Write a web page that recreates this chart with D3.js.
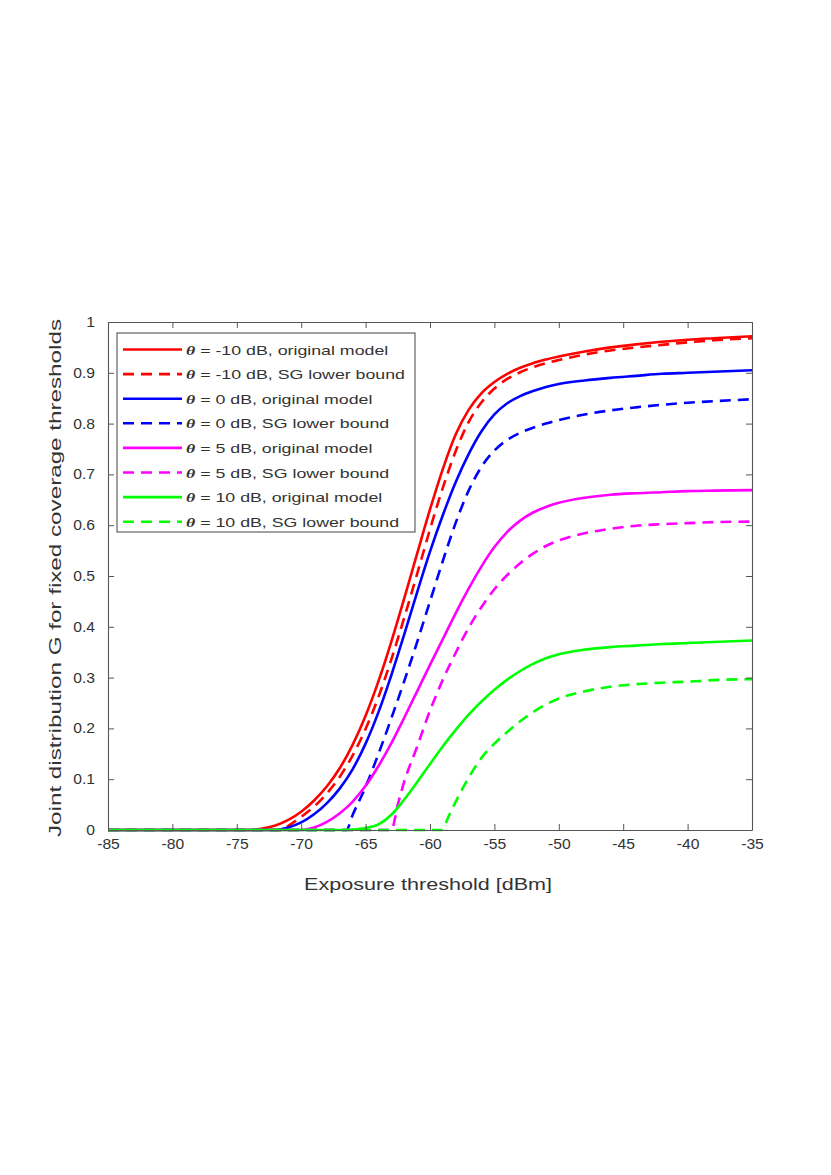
<!DOCTYPE html>
<html><head><meta charset="utf-8">
<script src="https://cdn.jsdelivr.net/npm/d3@7/dist/d3.min.js"></script>
<style>body{margin:0;background:#fff}svg{display:block}</style>
</head><body><svg id="c" width="831" height="1175"></svg>
<script>
// ---- data ----
const xTickValues = [-85,-80,-75,-70,-65,-60,-55,-50,-45,-40,-35];
const xTickLabels = ["-85","-80","-75","-70","-65","-60","-55","-50","-45","-40","-35"];
const yTickValues = [0,0.1,0.2,0.3,0.4,0.5,0.6,0.7,0.8,0.9,1];
const yTickLabels = ["0","0.1","0.2","0.3","0.4","0.5","0.6","0.7","0.8","0.9","1"];

const legendLabels = [
  ["θ", " = -10 dB, original model"],
  ["θ", " = -10 dB, SG lower bound"],
  ["θ", " = 0 dB, original model"],
  ["θ", " = 0 dB, SG lower bound"],
  ["θ", " = 5 dB, original model"],
  ["θ", " = 5 dB, SG lower bound"],
  ["θ", " = 10 dB, original model"],
  ["θ", " = 10 dB, SG lower bound"]
];
const seriesColors = ["#ff0000","#ff0000","#0000ff","#0000ff","#ff00ff","#ff00ff","#00ff00","#00ff00"];
const seriesDashed = [false,true,false,true,false,true,false,true];

const redOriginal = [[-85,0],[-74,0],[-73,0.003],[-72,0.009],[-71,0.020],[-70,0.036],[-69,0.058],[-68,0.086],[-67,0.122],[-66,0.168],[-65,0.225],[-64,0.293],[-63,0.371],[-62,0.456],[-61,0.544],[-60,0.631],[-59,0.711],[-58,0.779],[-57,0.827],[-56,0.860],[-55,0.882],[-54,0.898],[-53,0.910],[-52,0.919],[-51,0.926],[-50,0.932],[-48,0.942],[-46,0.950],[-44,0.956],[-42,0.961],[-40,0.965],[-38,0.968],[-35,0.972]];
const redLower = [[-85,0],[-71.5,0],[-71,0.008],[-70,0.026],[-69,0.046],[-68,0.072],[-67,0.105],[-66,0.147],[-65,0.199],[-64,0.262],[-63,0.336],[-62,0.418],[-61,0.504],[-60,0.592],[-59,0.674],[-58,0.746],[-57,0.803],[-56,0.842],[-55,0.869],[-54,0.888],[-53,0.901],[-52,0.911],[-51,0.919],[-50,0.925],[-48,0.936],[-46,0.944],[-44,0.950],[-42,0.955],[-40,0.960],[-38,0.964],[-35,0.968]];
const blueOriginal = [[-85,0],[-72,0],[-71,0.005],[-70,0.015],[-69,0.031],[-68,0.053],[-67,0.082],[-66,0.120],[-65,0.170],[-64,0.232],[-63,0.305],[-62,0.385],[-61,0.468],[-60,0.548],[-59,0.620],[-58,0.685],[-57,0.740],[-56,0.785],[-55,0.818],[-54,0.840],[-53,0.854],[-52,0.864],[-51,0.872],[-50,0.878],[-48,0.885],[-46,0.890],[-44,0.894],[-42,0.898],[-40,0.900],[-38,0.902],[-35,0.905]];
const blueLower = [[-85,0],[-66.5,0],[-66,0.03],[-65,0.085],[-64,0.15],[-63,0.22],[-62,0.293],[-61,0.37],[-60,0.45],[-59,0.53],[-58,0.605],[-57,0.668],[-56,0.715],[-55,0.747],[-54,0.768],[-53,0.782],[-52,0.792],[-51,0.80],[-50,0.807],[-48,0.818],[-46,0.826],[-44,0.832],[-42,0.837],[-40,0.841],[-38,0.844],[-35,0.848]];
const magentaOriginal = [[-85,0],[-70,0],[-69,0.005],[-68,0.016],[-67,0.033],[-66,0.056],[-65,0.087],[-64,0.126],[-63,0.171],[-62,0.221],[-61,0.273],[-60,0.325],[-59,0.376],[-58,0.427],[-57,0.475],[-56,0.519],[-55,0.557],[-54,0.587],[-53,0.609],[-52,0.625],[-51,0.636],[-50,0.644],[-48,0.654],[-46,0.660],[-44,0.663],[-42,0.665],[-40,0.667],[-38,0.668],[-35,0.669]];
const magentaLower = [[-85,0],[-63,0],[-62.5,0.05],[-62,0.095],[-61,0.164],[-60,0.235],[-59,0.296],[-58,0.349],[-57,0.398],[-56,0.439],[-55,0.474],[-54,0.502],[-53,0.525],[-52,0.544],[-51,0.559],[-50,0.570],[-49,0.578],[-48,0.584],[-46,0.593],[-44,0.599],[-42,0.602],[-40,0.604],[-38,0.606],[-35,0.607]];
const greenOriginal = [[-85,0],[-67,0],[-66,0.001],[-65,0.004],[-64,0.011],[-63,0.030],[-62,0.060],[-61,0.094],[-60,0.130],[-59,0.165],[-58,0.197],[-57,0.227],[-56,0.253],[-55,0.276],[-54,0.296],[-53,0.313],[-52,0.327],[-51,0.338],[-50,0.346],[-48,0.355],[-46,0.360],[-44,0.363],[-42,0.366],[-40,0.368],[-38,0.370],[-35,0.373]];
const greenLower = [[-85,0],[-59.1,0],[-58.5,0.03],[-58,0.056],[-57,0.103],[-56,0.142],[-55,0.170],[-54,0.193],[-53,0.214],[-52,0.232],[-51,0.247],[-50,0.259],[-48,0.273],[-46,0.282],[-44,0.287],[-42,0.290],[-40,0.292],[-38,0.295],[-35,0.297]];

const seriesData = [redOriginal, redLower, blueOriginal, blueLower, magentaOriginal, magentaLower, greenOriginal, greenLower];

const xTitle = "Exposure threshold [dBm]";
const yTitle = "Joint distribution G for fixed coverage thresholds";

// ---- drawing ----
const svg = d3.select("#c");
const L = 108, R = 752, T = 322, B = 830;
const x = d3.scaleLinear().domain([-85, -35]).range([L, R]);
const y = d3.scaleLinear().domain([0, 1]).range([B, T]);
const axisCol = "#555", textCol = "#333";
const FONT = "'Liberation Sans', Arial, Helvetica, sans-serif";

function stretch(sel, factor) {
  sel.each(function () {
    const w = this.getComputedTextLength();
    this.setAttribute("textLength", w * factor);
    this.setAttribute("lengthAdjust", "spacingAndGlyphs");
  });
}

svg.append("defs").append("clipPath").attr("id", "clip")
  .append("rect").attr("x", L).attr("y", T - 2).attr("width", R - L).attr("height", B - T + 4);

// curves
const line = d3.line().x(d => x(d[0])).y(d => y(d[1])).curve(d3.curveMonotoneX);
const gLines = svg.append("g").attr("clip-path", "url(#clip)");
seriesData.forEach((s, i) => {
  gLines.append("path").datum(s)
    .attr("d", line)
    .attr("fill", "none")
    .attr("stroke", seriesColors[i])
    .attr("stroke-width", 2.6)
    .attr("stroke-dasharray", seriesDashed[i] ? "11,7" : null);
});

// axes (MATLAB-style box, ticks inside)
const tickLen = 6;
const gx = svg.append("g").attr("transform", `translate(0,${B})`)
  .call(d3.axisBottom(x).tickValues(xTickValues).tickFormat((d, i) => xTickLabels[i]).tickSizeInner(-tickLen).tickSizeOuter(0).tickPadding(tickLen + 3));
const gxTop = svg.append("g").attr("transform", `translate(0,${T})`)
  .call(d3.axisTop(x).tickValues(xTickValues).tickFormat("").tickSizeInner(-tickLen).tickSizeOuter(0));
const gy = svg.append("g").attr("transform", `translate(${L},0)`)
  .call(d3.axisLeft(y).tickValues(yTickValues).tickFormat((d, i) => yTickLabels[i]).tickSizeInner(-tickLen).tickSizeOuter(0).tickPadding(tickLen + 7));
const gyR = svg.append("g").attr("transform", `translate(${R},0)`)
  .call(d3.axisRight(y).tickValues(yTickValues).tickFormat("").tickSizeInner(-tickLen).tickSizeOuter(0));

[gx, gxTop, gy, gyR].forEach(g => {
  g.selectAll(".domain").attr("stroke", axisCol).attr("stroke-width", 1.1);
  g.selectAll(".tick line").attr("stroke", axisCol).attr("stroke-width", 1);
  g.selectAll("text").attr("fill", textCol).style("font-family", FONT).style("font-size", "14px");
});
stretch(gx.selectAll("text"), 1.12);
stretch(gy.selectAll("text"), 1.12);

// axis titles
const xt = svg.append("text").attr("x", (L + R) / 2 - 2).attr("y", 890)
  .attr("text-anchor", "middle").attr("fill", textCol)
  .style("font-family", FONT).style("font-size", "16px").text(xTitle);
xt.attr("textLength", 248).attr("lengthAdjust", "spacingAndGlyphs");

const yt = svg.append("text").attr("transform", `translate(61,${(T + B) / 2 + 2}) rotate(-90)`)
  .attr("text-anchor", "middle").attr("fill", textCol)
  .style("font-family", FONT).style("font-size", "16px").text(yTitle);
yt.attr("textLength", 518).attr("lengthAdjust", "spacingAndGlyphs");

// legend
const lg = svg.append("g");
const lgX = 117, lgY = 333, lgW = 298, lgH = 199;
lg.append("rect").attr("x", lgX).attr("y", lgY).attr("width", lgW).attr("height", lgH)
  .attr("fill", "#fff").attr("stroke", axisCol).attr("stroke-width", 1.1);
const rowY0 = 349.5, rowDy = 24.6;
const texts = [];
legendLabels.forEach((lab, i) => {
  const yy = rowY0 + i * rowDy;
  lg.append("line").attr("x1", 123).attr("x2", 182).attr("y1", yy).attr("y2", yy)
    .attr("stroke", seriesColors[i]).attr("stroke-width", 2.6)
    .attr("stroke-dasharray", seriesDashed[i] ? "11,7" : null);
  const t = lg.append("text").attr("x", 186).attr("y", yy + 5)
    .attr("fill", textCol).style("font-family", FONT).style("font-size", "13.5px");
  t.append("tspan").style("font-family", "'Liberation Serif', 'DejaVu Serif', serif")
    .style("font-style", "italic").style("font-weight", "bold").text(lab[0]);
  t.append("tspan").text(lab[1]);
  texts.push(t);
});
const refW = texts[1].node().getComputedTextLength();
const factor = 219 / refW;
texts.forEach(t => stretch(t, factor));
</script>
</body></html>
